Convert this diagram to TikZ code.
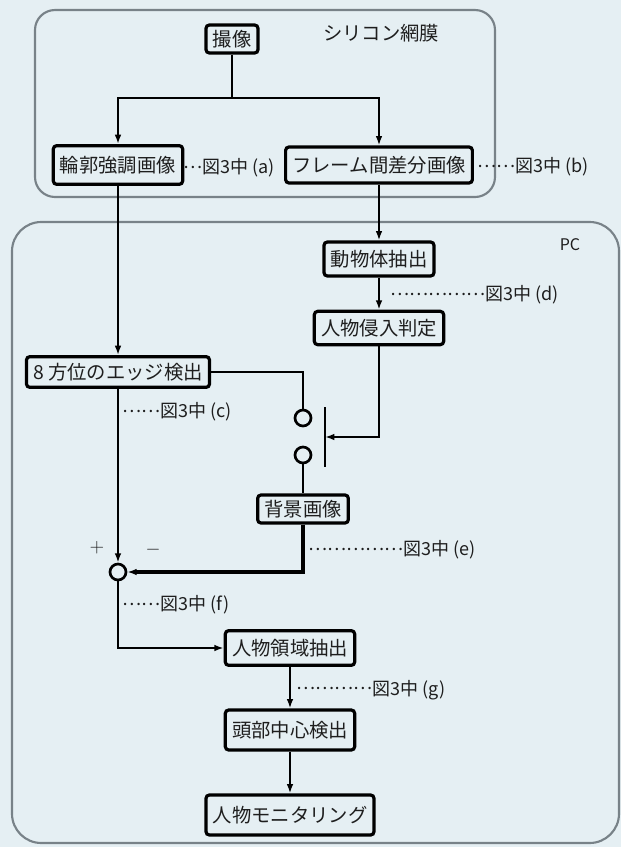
\documentclass[tikz,border=0pt]{standalone}
\usepackage{fontspec}
\setmainfont{Noto Sans CJK JP}
\usetikzlibrary{arrows.meta}
\definecolor{bgc}{RGB}{229,239,243}
\definecolor{framec}{RGB}{120,130,136}
\definecolor{txtc}{RGB}{30,30,30}
\newcommand\leaddots[1]{\raisebox{0.3em}{#1}}
\begin{document}
\begin{tikzpicture}[x=0.75pt,y=-0.75pt,
  box/.style={draw=black, line width=2.4pt, rounded corners=2.5pt, fill=bgc, inner xsep=5pt, inner ysep=0pt, text=txtc, font=\fontsize{14.5}{16}\selectfont},
  lbl/.style={inner sep=0pt, font=\fontsize{13.5}{15}\selectfont, anchor=west, text=txtc},
  conn/.style={line width=2pt},
  arr/.style={conn, -{Latex[length=7pt,width=5pt]}},
  container/.style={draw=framec, line width=1.6pt},
  swc/.style={circle, draw=black, line width=2pt, fill=bgc, minimum size=12pt, inner sep=0pt}
]
\fill[bgc] (0,0) rectangle (621,847);
\useasboundingbox (0,0) rectangle (621,847);

% containers
\draw[container, rounded corners=15pt] (35,10) rectangle (495,197);
\draw[container, rounded corners=22pt] (12,222) rectangle (619,843);
\node[text=txtc, font=\fontsize{14.5}{16}\selectfont] (silicon) at (381,33) {シリコン網膜};
\node[text=txtc, font=\fontsize{12}{14}\selectfont] (pc) at (570,245) {PC};

% boxes
\node[box, minimum height=21pt] (shot) at (232,39) {撮像};
\node[box, minimum height=29pt] (rinkaku) at (118,165) {輪郭強調画像};
\node[box, minimum height=27pt] (frame) at (379,165) {フレーム間差分画像};
\node[box, minimum height=25.5pt] (doubutsu) at (379,259) {動物体抽出};
\node[box, minimum height=25pt] (shinnyu) at (379,328) {人物侵入判定};
\node[box, minimum height=23pt] (edge8) at (118,372) {8 方位のエッジ検出};
\node[swc] (sw1) at (303,418) {};
\node[swc] (sw2) at (303,455) {};
\node[box, minimum height=21pt] (haikei) at (303,509) {背景画像};
\node[swc] (sum) at (118,572) {};
\node[box, minimum height=26pt] (ryoiki) at (290,648) {人物領域抽出};
\node[box, minimum height=30pt] (toubu) at (290,730) {頭部中心検出};
\node[box, minimum height=30pt] (monitor) at (290,815) {人物モニタリング};

% switch bar
\coordinate (b1) at (325,407);
\coordinate (b2) at (325,467);
\coordinate (bm) at (325,437);
\coordinate (j1) at (232,98);

% connectors
\draw[conn] (shot.south) -- (j1);
\draw[arr] (j1) -| (rinkaku.north);
\draw[arr] (j1) -| (frame.north);
\draw[arr] (rinkaku.south) -- (edge8.north);
\draw[arr] (frame.south) -- (doubutsu.north);
\draw[arr] (doubutsu.south) -- (shinnyu.north);
\draw[conn] (edge8.east) -| (sw1.north);
\draw[line width=2.2pt] (b1) -- (b2);
\draw[arr] (shinnyu.south) |- (bm);
\draw[conn] (sw2.south) -- (haikei.north);
\draw[arr, line width=3pt] (haikei.south) |- (sum.east);
\draw[arr] (edge8.south) -- (sum.north);
\draw[arr] (sum.south) |- (ryoiki.west);
\draw[arr] (ryoiki.south) -- (toubu.north);
\draw[arr] (toubu.south) -- (monitor.north);

% labels
\node[lbl] (la) at (183,168) {\leaddots{…}図3中 (a)};
\node[lbl] (lb) at (477,167) {\leaddots{……}図3中 (b)};
\node[lbl] (lc) at (122,412) {\leaddots{……}図3中 (c)};
\node[lbl] (ld) at (390,295) {\leaddots{……………}図3中 (d)};
\node[lbl] (le) at (308,550) {\leaddots{……………}図3中 (e)};
\node[lbl] (lf) at (122,605) {\leaddots{……}図3中 (f)};
\node[lbl] (lg) at (296,690) {\leaddots{…………}図3中 (g)};
\node[text=txtc, font=\fontsize{14}{15}\selectfont] (plus) at (97,548) {$+$};
\node[text=txtc, font=\fontsize{14}{15}\selectfont] (minus) at (153,550) {$-$};
\end{tikzpicture}
\end{document}
